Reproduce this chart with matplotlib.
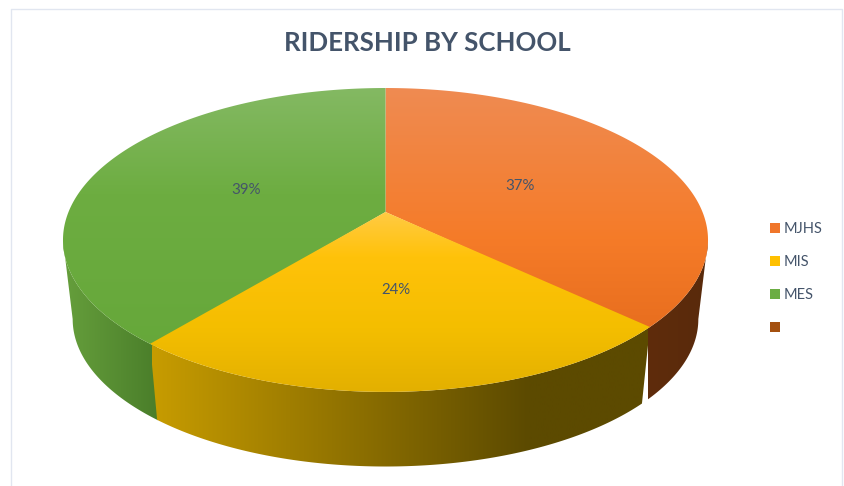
import numpy as np
import matplotlib
matplotlib.use("Agg")
import matplotlib.pyplot as plt
from matplotlib.colors import LinearSegmentedColormap as LSC
from matplotlib.patches import Patch, Polygon

# ---- data ----
title = "RIDERSHIP BY SCHOOL"
categories = ["MJHS", "MIS", "MES", ""]
values = [37, 24, 39, 0]

# ---- style ----
TEXT = "#44546A"
legend_colors = ["#F0762A", "#FFC000", "#6BAD43", "#A4500F"]
top_stops = {
    "MJHS": [(0.0, "#EF8B52"), (0.5, "#F57B28"), (1.0, "#DF6518")],
    "MIS": [(0.0, "#FFCB45"), (0.25, "#FFC20A"), (0.65, "#F4BE00"), (1.0, "#E3B000")],
    "MES": [(0.0, "#84B963"), (0.35, "#6DAD41"), (1.0, "#64A638")],
}
wall_stops = {
    "MJHS": [(0.0, "#5F2C0C"), (1.0, "#592A0B")],
    "MIS": [(0.0, "#C79C00"), (0.76, "#5C4A00"), (1.0, "#5C4A00")],
    "MES": [(0.0, "#669F3C"), (1.0, "#4A7E2A")],
}
wall_extents = {"MIS": (152, 648), "MES": (63, 158), "MJHS": (648, 708)}
# projection of the tilted disc, in pixels
CX, CY = 385.5, 212.0
A, B, P = 317.0, 146.8, 0.184
DROP, SHRINK = 80.0, 0.97
W, H = 844, 486
# the wall silhouette runs between the widest points of the two rings
SIDE = np.degrees(np.arccos(-P))


def project(theta_deg, r=1.0, lower=False):
    t = np.radians(theta_deg)
    X, Y = r * np.sin(t), -r * np.cos(t)
    den = 1 - P * Y
    s, d = (SHRINK, DROP) if lower else (1.0, 0.0)
    return CX + s * A * X / den, CY + d + s * B * Y / den


plt.rcParams["font.family"] = ["Lato", "DejaVu Sans"]
fig = plt.figure(figsize=(W / 100, H / 100), dpi=100, facecolor="white")
ax = fig.add_axes([0, 0, 1, 1])
ax.set_xlim(0, W)
ax.set_ylim(H, 0)
ax.axis("off")


def gradient(pts, stops, extent, horizontal, z):
    cmap = LSC.from_list("g", stops)
    g = np.linspace(0, 1, 256)
    arr = g[None, :] if horizontal else g[:, None]
    poly = Polygon(pts, closed=True, fc="none", ec="none", zorder=z)
    im = ax.imshow(arr, cmap=cmap, vmin=0, vmax=1, extent=extent, aspect="auto",
                   interpolation="bilinear", zorder=z)
    ax.add_patch(poly)
    im.set_clip_path(poly)
    return im


total = sum(values)
edges = np.concatenate([[0], np.cumsum(values)]) / total * 360.0
wedges = [(c, edges[i], edges[i + 1]) for i, c in enumerate(categories) if values[i] > 0]
# yellow is painted last so that its neighbours can tuck under it
order = sorted(wedges, key=lambda w: w[0] == "MIS")

# side walls
for name, a0, a1 in order:
    pad = 0 if name == "MIS" else 1.5
    lo, hi = max(a0 - pad, SIDE), min(a1 + pad, 360 - SIDE)
    th = np.linspace(lo, hi, 300)
    xt, yt = project(th)
    xb, yb = project(th, lower=True)
    pts = np.r_[np.c_[xt, yt], np.c_[xb, yb][::-1]]
    e0, e1 = wall_extents[name]
    gradient(pts, wall_stops[name], (e0, e1, H, 0), True, 2)

# top faces
for name, a0, a1 in order:
    pad = 0 if name == "MIS" else 0.6
    th = np.linspace(a0 - pad, a1 + pad, 400)
    if name == "MES":
        th = np.linspace(a0 - pad, a1, 400)
    if name == "MJHS":
        th = np.linspace(a0, a1 + pad, 400)
    x, y = project(th)
    pts = np.r_[[[CX, CY]], np.c_[x, y]]
    ext = (0, W, 392, 212) if name == "MIS" else (0, W, 392, 88)
    gradient(pts, top_stops[name], ext, False, 3)

# percentage labels
for i, v in enumerate(values):
    if v > 0:
        mid = (edges[i] + edges[i + 1]) / 2
        x, y = project(mid, r=0.48)
        ax.text(x, y + 1, f"{v}%", ha="center", va="center", fontsize=10.8, color=TEXT, zorder=5)

ax.text(427, 43, title, ha="center", va="center", fontsize=18.6, fontweight="bold", color=TEXT)

# legend
handles = [Patch(fc=c, ec="none") for c in legend_colors]
ax.legend(handles, categories, loc="upper left", bbox_to_anchor=(764.5 / W, 1 - 216 / H),
          frameon=False, fontsize=10.5, labelcolor=TEXT, handlelength=0.68, handleheight=0.68,
          handletextpad=0.2, labelspacing=1.31, borderpad=0.4, borderaxespad=0)

# frame of the chart area
ax.plot([10.5, 10.5, 841.5, 841.5], [H, 9, 9, H], color="#E1E6F0", lw=1.0, zorder=1)

ax.set_xlim(0, W)
ax.set_ylim(H, 0)
fig.savefig("out.png", dpi=100, facecolor="white")
